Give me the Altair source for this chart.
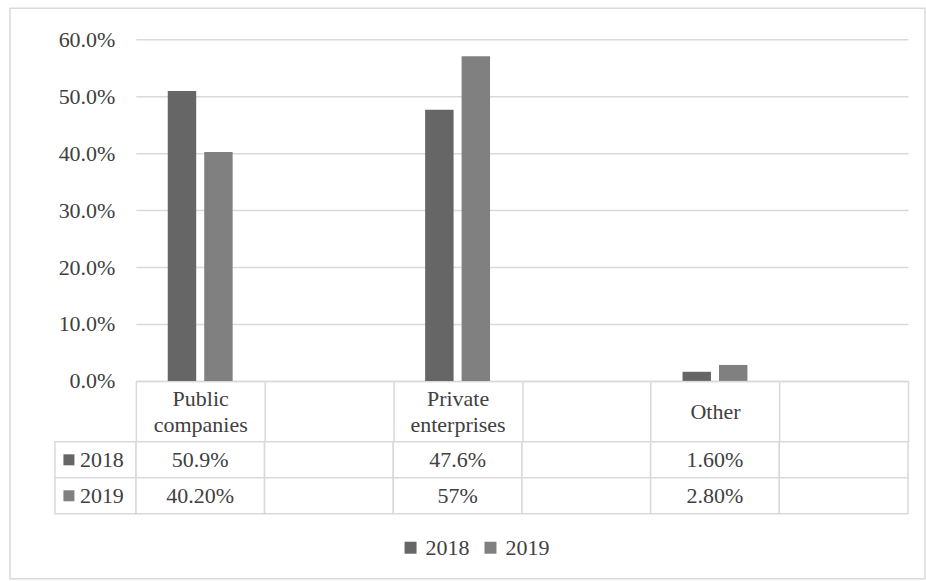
import altair as alt
import pandas as pd

# ---- data ----
categories = ["Public companies", "Private enterprises", "Other"]
years = ["2018", "2019"]
values_2018 = [0.509, 0.476, 0.016]
values_2019 = [0.402, 0.570, 0.028]
table_2018 = ["50.9%", "47.6%", "1.60%"]
table_2019 = ["40.20%", "57%", "2.80%"]
# chart columns (the Excel chart has empty columns between categories)
columns = ["Public companies", " ", "Private enterprises", "  ", "Other", "   "]
y_ticks = [0.0, 0.1, 0.2, 0.3, 0.4, 0.5, 0.6]

FONT = "Liberation Serif"
TXT = "#404040"
GRID = "#d9d9d9"

bar_rows = []
for cat, v18, v19 in zip(categories, values_2018, values_2019):
    bar_rows.append({"cat": cat, "year": "2018", "value": v18})
    bar_rows.append({"cat": cat, "year": "2019", "value": v19})
bar_df = pd.DataFrame(bar_rows)

labels = {"2018": dict(zip(categories, table_2018)), "2019": dict(zip(categories, table_2019))}
table_rows = []
for y in years:
    for c in columns:
        table_rows.append({"cat": c, "year": y, "label": labels[y].get(c, "")})
table_df = pd.DataFrame(table_rows)
key_df = pd.DataFrame({"year": years})

x_scale = alt.Scale(domain=columns, paddingInner=0, paddingOuter=0)
color_scale = alt.Scale(domain=years, range=["#666666", "#808080"])
row_scale = alt.Scale(domain=years, paddingInner=0, paddingOuter=0)

legend = alt.Legend(
    title=None, orient="none", legendX=264, legendY=498, direction="horizontal",
    symbolType="square", symbolSize=144, symbolStrokeWidth=0, symbolOpacity=1,
    labelFont=FONT, labelFontSize=22, labelColor=TXT, columnPadding=10,
    labelOffset=4, padding=0,
)

bars = alt.Chart(bar_df).mark_bar(strokeWidth=0).encode(
    x=alt.X(
        "cat:N", scale=x_scale, sort=columns,
        axis=alt.Axis(
            title=None, labelExpr="split(datum.label, ' ')", labelAngle=0,
            tickBand="extent", tickSize=61, tickColor=GRID, tickWidth=1.5,
            domainColor=GRID, domainWidth=1.5,
            labelPadding={"condition": {"test": "indexof(datum.label, ' ') > 0", "value": -43}, "value": -30},
            labelBaseline="middle",
            labelFont=FONT, labelFontSize=22, labelColor=TXT, labelLineHeight=26,
            labelOverlap=False, labelFlush=False, labelLimit=0,
        ),
    ),
    xOffset=alt.XOffset("year:N", scale=alt.Scale(domain=years, paddingInner=0.22, paddingOuter=0.875)),
    y=alt.Y(
        "value:Q", scale=alt.Scale(domain=[0, 0.6]),
        axis=alt.Axis(
            title=None, format=".1%", values=y_ticks, grid=True, gridColor=GRID,
            gridWidth=1.5, domain=False, ticks=False, labelPadding=21,
            labelFont=FONT, labelFontSize=22, labelColor=TXT,
        ),
    ),
    color=alt.Color("year:N", scale=color_scale, legend=legend),
)

frame = alt.Chart(pd.DataFrame({"k": [0]})).mark_rect(
    fillOpacity=0, stroke=GRID, strokeWidth=1.5
).encode(
    x=alt.value(-126), x2=alt.value(790), y=alt.value(-31), y2=alt.value(540)
)

top = alt.layer(frame, bars).properties(width=773, height=342)

cells = alt.Chart(table_df).mark_rect(fill="white", stroke=GRID, strokeWidth=1.5).encode(
    x=alt.X("cat:N", scale=x_scale, sort=columns, axis=None),
    y=alt.Y("year:N", scale=row_scale, axis=None),
)
key_cells = alt.Chart(key_df).mark_rect(fill="white", stroke=GRID, strokeWidth=1.5).encode(
    x=alt.value(-81), x2=alt.value(0),
    y=alt.Y("year:N", scale=row_scale, axis=None),
)
cell_text = alt.Chart(table_df).mark_text(font=FONT, fontSize=22, color=TXT).encode(
    x=alt.X("cat:N", scale=x_scale, sort=columns, axis=None),
    y=alt.Y("year:N", scale=row_scale, axis=None),
    text="label:N",
)
key_marks = alt.Chart(key_df).mark_point(shape="square", filled=True, size=121, opacity=1, strokeWidth=0).encode(
    x=alt.value(-67),
    y=alt.Y("year:N", scale=row_scale, axis=None),
    color=alt.Color("year:N", scale=color_scale, legend=legend),
)
key_text = alt.Chart(key_df).mark_text(font=FONT, fontSize=22, color=TXT, align="left").encode(
    x=alt.value(-56),
    y=alt.Y("year:N", scale=row_scale, axis=None),
    text="year:N",
)

table = alt.layer(cells, key_cells, cell_text, key_marks, key_text).properties(width=773, height=72)

chart = alt.vconcat(top, table, spacing=61, bounds="flush").resolve_scale(
    color="shared"
).properties(
    padding={"left": 9, "top": 7, "right": 0, "bottom": 0},
    background="white",
).configure_view(stroke=None)

chart.save("out.html", embed_options={"renderer": "svg", "actions": False})
